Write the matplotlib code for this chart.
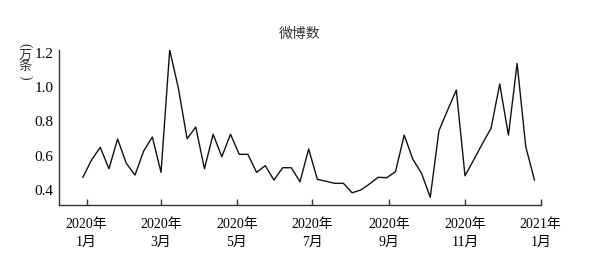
import numpy as np
import pandas as pd
import matplotlib
matplotlib.use("Agg")
import matplotlib.pyplot as plt

plt.rcParams['font.family'] = ['Liberation Serif', 'Noto Sans CJK SC']

# weekly counts of weibo posts (unit: 10k posts)
weeks = pd.date_range('2019-12-29', periods=53, freq='7D')
posts = [0.474, 0.575, 0.649, 0.524, 0.697, 0.556, 0.487, 0.627, 0.709, 0.503,
         1.216, 0.993, 0.699, 0.767, 0.524, 0.725, 0.594, 0.725, 0.608, 0.608,
         0.503, 0.542, 0.458, 0.530, 0.530, 0.448, 0.639, 0.462, 0.451, 0.439,
         0.439, 0.384, 0.400, 0.435, 0.474, 0.472, 0.507, 0.720, 0.579, 0.497,
         0.357, 0.746, 0.866, 0.983, 0.483, 0.575, 0.670, 0.760, 1.018, 0.720,
         1.138, 0.652, 0.458]

tick_dates = pd.to_datetime(['2020-01-01', '2020-03-01', '2020-05-01', '2020-07-01',
                             '2020-09-01', '2020-11-01', '2021-01-01'])
tick_labels = ['2020年\n1月', '2020年\n3月', '2020年\n5月', '2020年\n7月',
               '2020年\n9月', '2020年\n11月', '2021年\n1月']
yticks = [0.4, 0.6, 0.8, 1.0, 1.2]

fig = plt.figure(figsize=(5.9, 2.58), dpi=100)
ax = fig.add_axes([0.1005, 0.2054, 0.8159, 0.6006])

ax.plot(weeks, posts, color='#111111', lw=1.0)

ax.set_xlim(pd.Timestamp('2019-12-10'), pd.Timestamp('2021-01-01'))
ax.set_ylim(0.3126, 1.216)

ax.set_xticks(tick_dates)
ax.set_xticklabels(tick_labels, fontsize=10, linespacing=1.5)
ax.set_yticks(yticks)
ax.set_yticklabels(['%.1f' % v for v in yticks], fontsize=11)
ax.tick_params(axis='x', direction='in', length=4, width=1, color='#333333', pad=9)
ax.tick_params(axis='y', length=0, pad=4)

for s in ['top', 'right']:
    ax.spines[s].set_visible(False)
for s in ['left', 'bottom']:
    ax.spines[s].set_color('#333333')
    ax.spines[s].set_linewidth(1.0)

fig.text(0.5085, 0.865, '微博数', ha='center', va='center', fontsize=10, color='#333333')

# vertical unit label: (万条)
fig.text(0.043, 0.826, '(', rotation=-90, ha='center', va='center', fontsize=10, color='#333333')
fig.text(0.043, 0.762, '万\n条', ha='center', va='center', fontsize=9.5,
         linespacing=0.85, color='#333333')
fig.text(0.043, 0.700, ')', rotation=-90, ha='center', va='center', fontsize=10, color='#333333')

fig.savefig('out.png', dpi=100)
